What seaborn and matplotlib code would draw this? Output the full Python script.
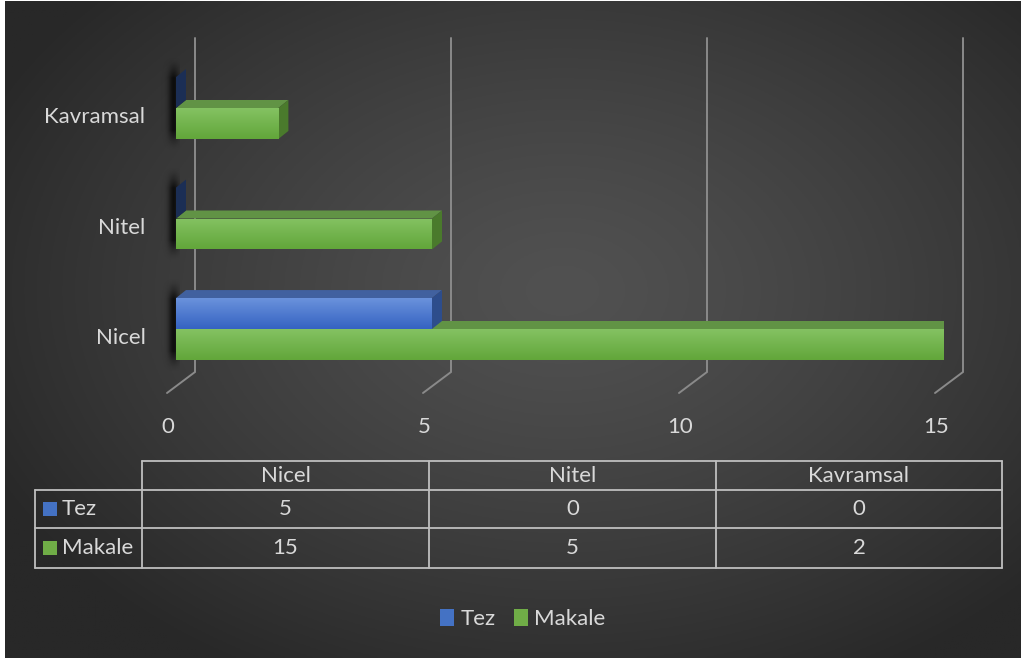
import numpy as np
import pandas as pd
import matplotlib
matplotlib.use("Agg")
import matplotlib.pyplot as plt
import seaborn as sns
from matplotlib.patches import Polygon, Rectangle
from matplotlib.transforms import ScaledTranslation

# ---------------- data ----------------
categories = ["Nicel", "Nitel", "Kavramsal"]
series = ["Tez", "Makale"]
tez = [5, 0, 0]
makale = [15, 5, 2]
xticks = [0, 5, 10, 15]

# ---------------- style ----------------
W, H = 1022, 660
FONT = ["Lato", "DejaVu Sans"]
FS = 16
TXT = "#d9d9d9"
BLUE, GREEN = "#4472c4", "#70ad47"
front_grad = {"Tez": ("#6a92dc", "#3563c2"), "Makale": ("#84c262", "#62a63a")}
top_col = {"Tez": "#41619f", "Makale": "#619345"}
side_col = {"Tez": "#2d4d8c", "Makale": "#4a7a2c"}
zero_side = {"Tez": "#1b2e55", "Makale": "#33521f"}

sns.set_theme(style="white")
plt.rcParams["font.family"] = FONT

fig = plt.figure(figsize=(W / 100, H / 100), dpi=100, facecolor="white")

# background (radial gradient)
bg = fig.add_axes([0, 0, 1, 1])
bg.set_zorder(0)
bg.set_xlim(0, W)
bg.set_ylim(H, 0)
bg.axis("off")
yy, xx = np.mgrid[0:330, 0:511]
xx = xx * 2.0
yy = yy * 2.0
r = np.sqrt(((xx - 560) / 640) ** 2 + ((yy - 290) / 440) ** 2)
r = np.clip(r, 0, 1)
c_in = np.array([0x51, 0x51, 0x51]) / 255
c_out = np.array([0x28, 0x28, 0x28]) / 255
img = c_in + (c_out - c_in) * (r[..., None] ** 1.3)
bg.imshow(img, extent=(5, 1021, 658, 1), origin="upper", aspect="auto", zorder=0)

# ---------------- main axes ----------------
PX = 768 / 15.0   # px per x unit
PY = 110.5        # px per category unit
ax = fig.add_axes([176 / W, 1 - 400 / H, 768 / W, 370 / H])
ax.set_zorder(1)
ax.patch.set_alpha(0)

df = pd.DataFrame({
    "cat": categories * 2,
    "series": [series[0]] * len(tez) + [series[1]] * len(makale),
    "val": tez + makale,
})
sns.barplot(data=df, x="val", y="cat", hue="series", order=categories[::-1],
            hue_order=series, palette=[BLUE, GREEN], width=0.56, orient="h",
            errorbar=None, saturation=1, ax=ax)

def Ydat(py):
    return (py - 108) / PY

def Xdat(px):
    return (px - 176) / PX

ax.set_xlim(0, 15)
ax.set_ylim(Ydat(400), Ydat(30))

dx = 10 / PX
dy = -8 / PY

# soft shadows left of each category group
for i in range(len(categories)):
    sx = np.linspace(0, 1, 60)
    sy = np.linspace(0, 1, 80)
    pxs = 155 + sx * 25
    ax_prof = np.exp(-((pxs - 174) / 5.5) ** 2)
    y_prof = np.clip(np.minimum(sy, 1 - sy) / 0.22, 0, 1) ** 1.5
    alpha = 0.75 * y_prof[:, None] * ax_prof[None, :]
    sh = np.zeros((80, 60, 4))
    sh[..., 3] = alpha
    yt = i - 0.28 + dy - 12 / PY
    yb = i + 0.28 + 12 / PY
    ax.imshow(sh, extent=(Xdat(155), Xdat(180), yb, yt), origin="upper",
              aspect="auto", zorder=1.5, clip_on=False)

# 3D faces + gradients
for cont, name in zip(ax.containers, series):
    z = 2 if name == "Makale" else 5
    c0, c1 = front_grad[name]
    cmap = matplotlib.colors.LinearSegmentedColormap.from_list("g", [c0, c1])
    grad = cmap(np.linspace(0, 1, 64))[:, None, :3]
    for p in cont.patches:
        x0, w = p.get_x(), p.get_width()
        y0, h = p.get_y(), p.get_height()
        ytop, ybot = y0, y0 + h
        p.set_edgecolor("none")
        p.set_zorder(z)
        if w > 0:
            im = ax.imshow(grad, extent=(x0, x0 + w, ybot, ytop), origin="upper",
                           aspect="auto", zorder=z + 0.1)
            im.set_clip_path(p)
            ax.add_patch(Polygon([(x0, ytop), (x0 + w, ytop), (x0 + w + dx, ytop + dy),
                                  (x0 + dx, ytop + dy)], closed=True,
                                 facecolor=top_col[name], edgecolor="none", zorder=z))
            sc = side_col[name]
        else:
            sc = zero_side[name]
        ax.add_patch(Polygon([(x0 + w, ytop), (x0 + w, ybot), (x0 + w + dx, ybot + dy),
                              (x0 + w + dx, ytop + dy)], closed=True,
                             facecolor=sc, edgecolor="none", zorder=z))

# grid lines (back wall + floor edge)
for v in xticks:
    xb = v + 19 / PX
    xf = v - 9 / PX
    ax.plot([xb, xb, xf], [Ydat(38), Ydat(372), Ydat(393)], color="#8a8a8a",
            lw=1.4, zorder=1, clip_on=False, solid_joinstyle="miter")

ax.set_xticks(xticks)
ax.set_xticklabels([str(v) for v in xticks])
ax.tick_params(axis="x", length=0, pad=12, labelsize=FS, labelcolor=TXT)
ax.tick_params(axis="y", length=0, pad=22, labelsize=FS, labelcolor=TXT)
for lbl in ax.get_xticklabels():
    lbl.set_transform(lbl.get_transform() + ScaledTranslation(-8 / 100, 0, fig.dpi_scale_trans))
    lbl.set_family(FONT)
for lbl in ax.get_yticklabels():
    lbl.set_transform(lbl.get_transform() + ScaledTranslation(0, -7 / 100, fig.dpi_scale_trans))
    lbl.set_family(FONT)
for s in ax.spines.values():
    s.set_visible(False)
ax.set_xlabel("")
ax.set_ylabel("")
ax.grid(False)

sns.move_legend(ax, "center", bbox_to_anchor=(523 / W, 1 - 619 / H),
                bbox_transform=fig.transFigure, ncol=2, frameon=False, title=None,
                handlelength=0.63, handleheight=0.85, handletextpad=0.3,
                columnspacing=0.8, fontsize=FS, labelcolor=TXT)
leg = ax.get_legend()
for hdl in leg.legend_handles:
    hdl.set_edgecolor("none")
    hdl.set_linewidth(0)

# ---------------- data table ----------------
tb = fig.add_axes([0, 0, 1, 1])
tb.set_zorder(2)
tb.patch.set_alpha(0)
tb.set_xlim(0, W)
tb.set_ylim(H, 0)
tb.axis("off")
LC = "#bfbfbf"
LW = 1.3
colx = [142, 429, 716, 1002]
rowy = [461, 490, 528, 568]
tb.plot([colx[0], colx[-1]], [rowy[0]] * 2, color=LC, lw=LW)
for yv in rowy[1:]:
    tb.plot([35, colx[-1]], [yv] * 2, color=LC, lw=LW)
for xv in colx:
    tb.plot([xv, xv], [rowy[0], rowy[-1]], color=LC, lw=LW)
tb.plot([35, 35], [rowy[1], rowy[-1]], color=LC, lw=LW)

for j, c in enumerate(categories):
    cx = (colx[j] + colx[j + 1]) / 2
    tb.text(cx, (rowy[0] + rowy[1]) / 2, c, ha="center", va="center",
            fontsize=FS, color=TXT, family=FONT)
for r_i, (name, vals, col) in enumerate(zip(series, [tez, makale], [BLUE, GREEN])):
    cy = (rowy[r_i + 1] + rowy[r_i + 2]) / 2
    tb.add_patch(Rectangle((43, cy - 7), 14, 14, facecolor=col, edgecolor="none"))
    tb.text(62, cy, name, ha="left", va="center", fontsize=FS, color=TXT, family=FONT)
    for j, v in enumerate(vals):
        cx = (colx[j] + colx[j + 1]) / 2
        tb.text(cx, cy, str(v), ha="center", va="center", fontsize=FS,
                color=TXT, family=FONT)

fig.savefig("out.png", dpi=100, facecolor="white")
